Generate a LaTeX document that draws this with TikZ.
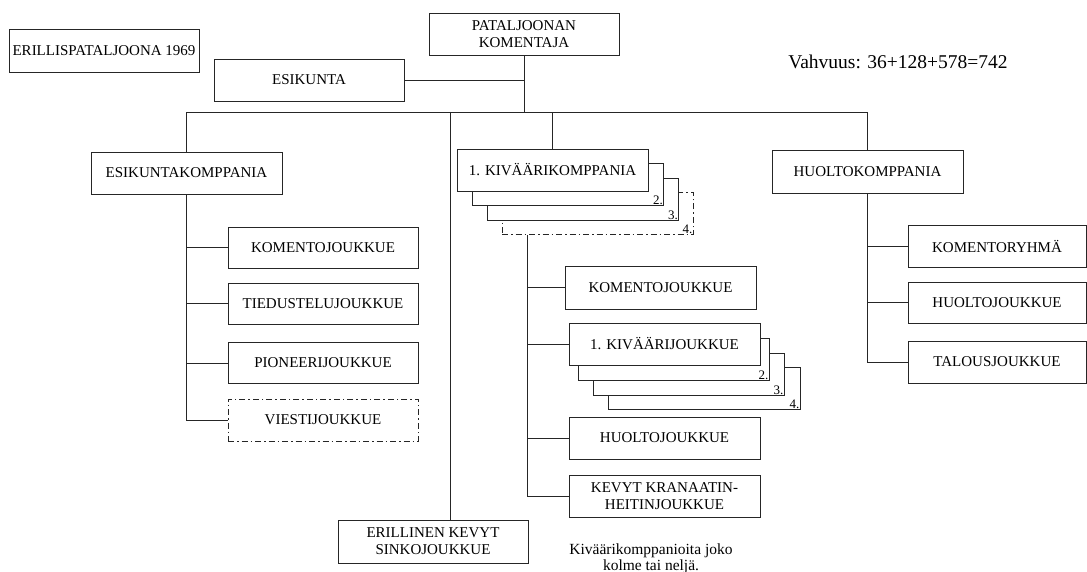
\documentclass[tikz,border=0pt]{standalone}
\usepackage{fontspec}
\setmainfont{Liberation Serif}
\newcommand{\boxfont}{\fontsize{15}{17}\selectfont}
\begin{document}
\begin{tikzpicture}[x=1pt,y=-1pt,
  box/.style={draw=black!85, line width=0.9pt, fill=white, minimum width=191pt, minimum height=42pt, inner sep=0pt, align=center, font=\boxfont},
  dashbox/.style={box, dash pattern=on 6pt off 3pt on 1.5pt off 3pt},
  conn/.style={draw=black!85, line width=0.9pt},
  num/.style={font=\fontsize{13}{14}\selectfont, inner sep=1pt, anchor=south east}]
\useasboundingbox (0,0) rectangle (1087,572);

% top
\node[box, minimum width=190pt, minimum height=43pt] (title) at (104,50.5) {ERILLISPATALJOONA 1969};
\node[box, minimum width=190pt] (cmd) at (524,34) {PATALJOONAN\\KOMENTAJA};
\node[box, minimum width=190pt] (esik) at (309,80) {ESIKUNTA};
\node[font=\fontsize{19.5}{22}\selectfont, inner sep=0pt] (vahv) at (898,62) {Vahvuus: 36+128+578=742};

% companies
\node[box] (ekk) at (186.5,173) {ESIKUNTAKOMPPANIA};
\node[dashbox] (kk4) at (597.5,213.5) {};
\node[box] (kk3) at (583,199) {};
\node[box] (kk2) at (568,184.5) {};
\node[box] (kk1) at (552.5,170) {1. KIVÄÄRIKOMPPANIA};
\node[num] (n2a) at (kk2.south east) {2.};
\node[num] (n3a) at (kk3.south east) {3.};
\node[num] (n4a) at (kk4.south east) {4.};
\node[box, minimum height=43pt] (hk) at (867.5,171.5) {HUOLTOKOMPPANIA};

% esikuntakomppania children
\node[box, minimum width=190pt, minimum height=41pt] (e1) at (323,247.5) {KOMENTOJOUKKUE};
\node[box, minimum width=190pt, minimum height=41pt] (e2) at (323,303.5) {TIEDUSTELUJOUKKUE};
\node[box, minimum width=190pt, minimum height=41pt] (e3) at (323,363) {PIONEERIJOUKKUE};
\node[dashbox, minimum width=190pt] (e4) at (323,420) {VIESTIJOUKKUE};

% kivaarikomppania children
\node[box, minimum height=43pt] (k1) at (660.5,287.5) {KOMENTOJOUKKUE};
\node[box, minimum width=192pt] (kj4) at (704,388) {};
\node[box] (kj3) at (688.5,374) {};
\node[box] (kj2) at (673.5,359) {};
\node[box] (kj1) at (664.5,344) {1. KIVÄÄRIJOUKKUE};
\node[num] (n2b) at (kj2.south east) {2.};
\node[num] (n3b) at (kj3.south east) {3.};
\node[num] (n4b) at (kj4.south east) {4.};
\node[box] (k3) at (664.5,438) {HUOLTOJOUKKUE};
\node[box] (k4) at (664.5,496) {KEVYT KRANAATIN-\\HEITINJOUKKUE};

% huoltokomppania children
\node[box, minimum width=178pt] (h1) at (997,246) {KOMENTORYHMÄ};
\node[box, minimum width=178pt, minimum height=41pt] (h2) at (997,302.5) {HUOLTOJOUKKUE};
\node[box, minimum width=178pt] (h3) at (997,362) {TALOUSJOUKKUE};

% sinko
\node[box, minimum width=190pt, minimum height=43pt] (sinko) at (433,541.5) {ERILLINEN KEVYT\\SINKOJOUKKUE};

\node[font=\fontsize{15.5}{16}\selectfont, align=center, inner sep=0pt] (note) at (651,559) {Kiväärikomppanioita joko\\kolme tai neljä.};

% connectors
\coordinate (bus) at (0,112);
\coordinate (sinkoTop) at (450,112);
\coordinate (kspine) at (527,0);
\path[conn] (cmd.south) -- (cmd.south |- bus);
\path[conn] (esik.east) -- (esik.east -| cmd.south);
\path[conn] (ekk.north) -- (ekk.north |- bus) -- (hk.north |- bus) -- (hk.north);
\path[conn] (kk1.north) -- (kk1.north |- bus);
\path[conn] (sinkoTop) -- (sinkoTop |- sinko.north);

\path[conn] (ekk.south) -- (ekk.south |- e4.west) -- (e4.west);
\path[conn] (e1.west) -- (e1.west -| ekk.south);
\path[conn] (e2.west) -- (e2.west -| ekk.south);
\path[conn] (e3.west) -- (e3.west -| ekk.south);

\path[conn] (kspine |- kk4.south) -- (kspine |- k4.west) -- (k4.west);
\path[conn] (k1.west) -- (k1.west -| kspine);
\path[conn] (kj1.west) -- (kj1.west -| kspine);
\path[conn] (k3.west) -- (k3.west -| kspine);

\path[conn] (hk.south) -- (hk.south |- h3.west) -- (h3.west);
\path[conn] (h1.west) -- (h1.west -| hk.south);
\path[conn] (h2.west) -- (h2.west -| hk.south);
\end{tikzpicture}
\end{document}
